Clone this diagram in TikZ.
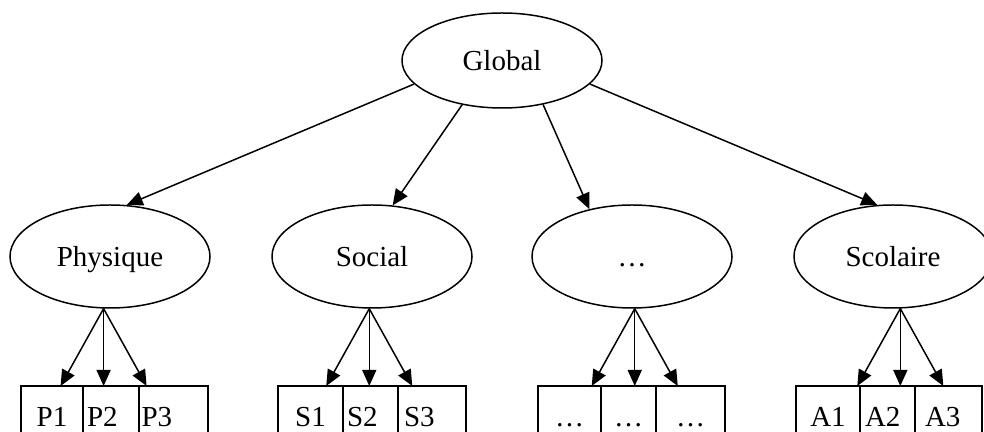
\documentclass[tikz,border=0pt]{standalone}
\usepackage{fontspec}
\setmainfont{Liberation Serif}
\usetikzlibrary{shapes.geometric,arrows.meta,positioning}

\begin{document}
\begin{tikzpicture}[
    every node/.style={font=\fontsize{16.5}{20}\selectfont},
    dim/.style={ellipse,draw,line width=0.85pt,minimum width=4cm,minimum height=2.06cm,inner sep=0pt,text height=11.5pt,text depth=0pt},
    cell/.style={rectangle,draw,line width=0.85pt,minimum height=1.2cm,inner sep=0pt,outer sep=0pt,text height=11.5pt,text depth=0pt},
    lcell/.style={cell,align=left},
    arr/.style={-{Triangle[length=0.32cm,width=0.28cm]},line width=0.85pt}]
        \useasboundingbox (0,0) rectangle (19.68,8.64);
        % ellipses
        \node[dim,minimum height=1.9cm] (global) at (10.04,7.43) {Global};
        \node[dim] (phys) at (2.2,3.51) {Physique};
        \node[dim] (soc) at (7.44,3.51) {Social};
        \node[dim] (etc) at (12.64,3.51) {…};
        \node[dim,minimum width=3.96cm] (scol) at (17.86,3.51) {Scolaire};
        % records
        \node[cell,anchor=north west,minimum width=1.24cm] (p1) at (0.42,0.92) {P1};
        \node[lcell,right=0pt of p1,minimum width=1.12cm,text width=0.96cm] (p2) {P2};
        \node[lcell,right=0pt of p2,minimum width=1.38cm,text width=1.28cm] (p3) {P3};
        \node[cell,anchor=north west,minimum width=1.30cm] (s1) at (5.56,0.92) {S1};
        \node[lcell,right=0pt of s1,minimum width=1.10cm,text width=0.94cm] (s2) {S2};
        \node[lcell,right=0pt of s2,minimum width=1.36cm,text width=1.12cm] (s3) {S3};
        \node[cell,anchor=north west,minimum width=1.26cm] (e1) at (10.76,0.92) {…};
        \node[cell,right=0pt of e1,minimum width=1.10cm] (e2) {…};
        \node[cell,right=0pt of e2,minimum width=1.38cm] (e3) {…};
        \node[cell,anchor=north west,minimum width=1.28cm] (a1) at (15.92,0.92) {A1};
        \node[lcell,right=0pt of a1,minimum width=1.10cm,text width=0.90cm] (a2) {A2};
        \node[lcell,right=0pt of a2,minimum width=1.34cm,text width=0.94cm] (a3) {A3};
        % edges
        \draw[arr] (global.195) -- (phys.72);
        \draw[arr] (global.228) -- (soc.68);
        \draw[arr] (global.313) -- (etc.132);
        \draw[arr] (global.345) -- (scol.107);
        \foreach \e/\a/\c in {phys/263/p,soc/267/s,etc/273/e,scol/278/a} {
            \draw[arr] (\e.\a) -- ([xshift=-0.86cm]\e.\a |- \c1.north);
            \draw[arr] (\e.\a) -- (\e.\a |- \c2.north);
            \draw[arr] (\e.\a) -- ([xshift=0.86cm]\e.\a |- \c3.north);
        }
    \end{tikzpicture}
\end{document}
